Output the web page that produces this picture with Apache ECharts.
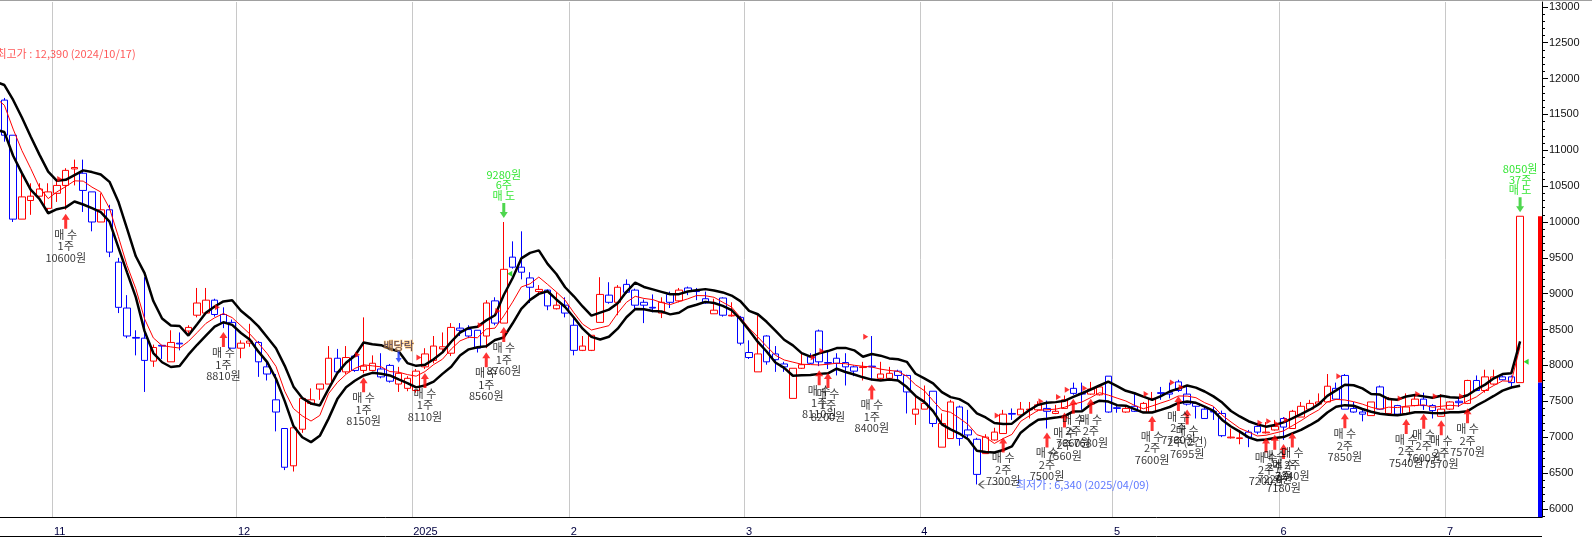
<!DOCTYPE html>
<html>
<head>
<meta charset="utf-8">
<script src="https://cdn.jsdelivr.net/npm/echarts@6/dist/echarts.min.js"></script>
<style>
  html, body { margin: 0; padding: 0; background: #fff; }
  #chart { width: 1592px; height: 537px; }
</style>
</head>
<body>
<div id="chart"></div>
<script>
// last days before the visible window, only used to seed the 5-day averages
var preDates = ['2024/10/18', '2024/10/21', '2024/10/22', '2024/10/23'];
var preOpens = [12150, 11700, 11850, 11600];
var preHighs = [12250, 11900, 11870, 11800];
var preLows = [11650, 11250, 11250, 11000];
var preCloses = [11700, 11850, 11600, 11780];

// trading days shown (Oct 24 2024 - Jul 11 2025)
var dates = [
  '2024/10/24', '2024/10/25', '2024/10/28', '2024/10/29', '2024/10/30', '2024/10/31',
  '2024/11/01', '2024/11/04', '2024/11/05', '2024/11/06', '2024/11/07', '2024/11/08', '2024/11/11',
  '2024/11/12', '2024/11/13', '2024/11/14', '2024/11/15', '2024/11/18', '2024/11/19', '2024/11/20',
  '2024/11/21', '2024/11/22', '2024/11/25', '2024/11/26', '2024/11/27', '2024/11/28', '2024/11/29',
  '2024/12/02', '2024/12/03', '2024/12/04', '2024/12/05', '2024/12/06', '2024/12/09', '2024/12/10',
  '2024/12/11', '2024/12/12', '2024/12/13', '2024/12/16', '2024/12/17', '2024/12/18', '2024/12/19',
  '2024/12/20', '2024/12/23', '2024/12/24', '2024/12/26', '2024/12/27', '2024/12/30',
  '2025/01/02', '2025/01/03', '2025/01/06', '2025/01/07', '2025/01/08', '2025/01/09', '2025/01/10',
  '2025/01/13', '2025/01/14', '2025/01/15', '2025/01/16', '2025/01/17', '2025/01/20', '2025/01/21',
  '2025/01/22', '2025/01/23', '2025/01/24', '2025/01/31',
  '2025/02/03', '2025/02/04', '2025/02/05', '2025/02/06', '2025/02/07', '2025/02/10', '2025/02/11',
  '2025/02/12', '2025/02/13', '2025/02/14', '2025/02/17', '2025/02/18', '2025/02/19', '2025/02/20',
  '2025/02/21', '2025/02/24', '2025/02/25', '2025/02/26', '2025/02/27', '2025/02/28',
  '2025/03/04', '2025/03/05', '2025/03/06', '2025/03/07', '2025/03/10', '2025/03/11', '2025/03/12',
  '2025/03/13', '2025/03/14', '2025/03/17', '2025/03/18', '2025/03/19', '2025/03/20', '2025/03/21',
  '2025/03/24', '2025/03/25', '2025/03/26', '2025/03/27', '2025/03/28', '2025/03/31',
  '2025/04/01', '2025/04/02', '2025/04/03', '2025/04/04', '2025/04/07', '2025/04/08', '2025/04/09',
  '2025/04/10', '2025/04/11', '2025/04/14', '2025/04/15', '2025/04/16', '2025/04/17', '2025/04/18',
  '2025/04/21', '2025/04/22', '2025/04/23', '2025/04/24', '2025/04/25', '2025/04/28', '2025/04/29',
  '2025/04/30',
  '2025/05/02', '2025/05/07', '2025/05/08', '2025/05/09', '2025/05/12', '2025/05/13', '2025/05/14',
  '2025/05/15', '2025/05/16', '2025/05/19', '2025/05/20', '2025/05/21', '2025/05/22', '2025/05/23',
  '2025/05/26', '2025/05/27', '2025/05/28', '2025/05/29', '2025/05/30',
  '2025/06/02', '2025/06/04', '2025/06/05', '2025/06/09', '2025/06/10', '2025/06/11', '2025/06/12',
  '2025/06/13', '2025/06/16', '2025/06/17', '2025/06/18', '2025/06/19', '2025/06/20', '2025/06/23',
  '2025/06/24', '2025/06/25', '2025/06/26', '2025/06/27', '2025/06/30',
  '2025/07/01', '2025/07/02', '2025/07/03', '2025/07/04', '2025/07/07', '2025/07/08', '2025/07/09',
  '2025/07/10', '2025/07/11'
];

var opens = [
  11700, 11210, 10040, 10300, 10360, 10190, 10400, 10510, 10740, 10680,
  10420, 10000, 10170, 9440, 8800, 8390, 8380, 8060, 8280, 8050,
  8310, 8480, 8700, 8730, 8910, 8710, 8600, 8240, 8310, 8320,
  7980, 7520, 7120, 6600, 7110, 7470, 7670, 7740, 8100, 7910,
  8130, 7930, 7930, 7950, 8000, 7740, 7680, 7650, 7980, 8070,
  8230, 8170, 8520, 8500, 8490, 8410, 8900, 8590, 9510, 9370,
  9220, 9030, 9050, 8790, 8840, 8560, 8210, 8210, 8600, 8980,
  8880, 9130, 9050, 8880, 8810, 8730, 8990, 8900, 9080, 9040,
  8930, 8720, 8940, 8690, 8670, 8180, 7910, 8410, 8160, 8020,
  7540, 7960, 8120, 8480, 8040, 8100, 8040, 7980, 7970, 7990,
  7820, 7820, 7920, 7860, 7320, 7390, 7640, 6860, 6980, 7420,
  7100, 6970, 6770, 6960, 7050, 7330, 7310, 7380, 7380, 7400,
  7330, 7400, 7680, 7610, 7600, 7590, 7850, 7410, 7350, 7430,
  7350, 7350, 7620, 7620, 7770, 7600, 7470, 7390, 7360, 7330,
  6990, 6980, 7070, 7150, 7060, 7100, 7260, 7120, 7280, 7390,
  7460, 7490, 7680, 7860, 7400, 7350, 7300, 7700, 7330, 7440,
  7330, 7440, 7530, 7440, 7290, 7390, 7500, 7470, 7790, 7650,
  7740, 7840, 7840, 7760
];
var highs = [
  11730, 11210, 10680, 10540, 10540, 10540, 10570, 10750, 10870, 10870,
  10420, 10400, 10240, 9500, 8980, 8490, 9230, 8290, 8280, 8490,
  8460, 8560, 9080, 9080, 8930, 8810, 8640, 8350, 8580, 8340,
  8050, 7880, 7120, 7130, 7540, 7680, 7740, 8270, 8230, 8270,
  8160, 8670, 8140, 8170, 8020, 7980, 7850, 7950, 8240, 8410,
  8460, 8590, 8590, 8560, 8490, 8910, 8950, 10000, 9730, 9870,
  9300, 9120, 9060, 9020, 8950, 8670, 8410, 8420, 9230, 9160,
  9120, 9200, 9070, 8920, 8990, 8950, 9030, 9080, 9100, 9080,
  9030, 8930, 8950, 8880, 8690, 8350, 8700, 8420, 8270, 8050,
  7960, 8160, 8170, 8500, 8210, 8170, 8170, 8000, 8050, 8410,
  8050, 7980, 7940, 7870, 7580, 7720, 7640, 7330, 7520, 7440,
  7380, 6990, 7040, 7130, 7380, 7400, 7490, 7490, 7500, 7510,
  7450, 7580, 7760, 7760, 7770, 7730, 7850, 7440, 7440, 7600,
  7490, 7630, 7700, 7760, 7800, 7710, 7480, 7430, 7420, 7370,
  7120, 7100, 7100, 7200, 7210, 7240, 7280, 7380, 7490, 7520,
  7610, 7880, 7760, 7880, 7490, 7390, 7490, 7720, 7560, 7450,
  7610, 7600, 7620, 7460, 7600, 7500, 7560, 7800, 7860, 7940,
  7940, 7860, 7860, 10080
];
var lows = [
  11120, 10000, 10040, 10100, 10350, 10120, 10280, 10170, 10510, 10140,
  9870, 10000, 9510, 8730, 8380, 8140, 7630, 7980, 8090, 8050,
  8210, 8420, 8670, 8720, 8680, 8520, 8240, 8100, 8260, 7840,
  7790, 7080, 6540, 6520, 7060, 7450, 7520, 7740, 7880, 7880,
  7910, 7890, 7920, 7820, 7760, 7630, 7640, 7620, 7950, 8030,
  8170, 8130, 8410, 8380, 8180, 8240, 8560, 8590, 9350, 9200,
  8870, 8980, 8770, 8780, 8670, 8140, 8200, 8200, 8600, 8860,
  8700, 9000, 8770, 8590, 8740, 8660, 8800, 8880, 8980, 8910,
  8860, 8720, 8680, 8680, 8280, 8090, 7910, 8010, 7910, 7910,
  7540, 7950, 8020, 7990, 7950, 7860, 7720, 7850, 7790, 7790,
  7800, 7790, 7780, 7330, 7170, 7390, 7140, 6860, 6980, 6880,
  6990, 6340, 6770, 6950, 7050, 7240, 7300, 7260, 7360, 7120,
  7320, 7400, 7590, 7380, 7590, 7580, 7340, 7340, 7340, 7350,
  7340, 7350, 7520, 7540, 7630, 7440, 7260, 7260, 7240, 7000,
  6980, 6900, 6860, 7040, 7050, 7090, 6960, 7120, 7280, 7380,
  7450, 7490, 7520, 7390, 7340, 7220, 7300, 7380, 7320, 7300,
  7310, 7430, 7380, 7260, 7290, 7380, 7420, 7460, 7640, 7620,
  7730, 7790, 7680, 7760
];
var closes = [
  11210, 10040, 10350, 10360, 10460, 10420, 10510, 10720, 10760, 10440,
  10000, 10170, 9580, 8810, 8410, 8380, 8070, 8250, 8270, 8320,
  8300, 8530, 8870, 8910, 8710, 8600, 8240, 8310, 8340, 8050,
  7880, 7350, 6580, 7130, 7540, 7520, 7740, 8100, 7910, 8110,
  7930, 7990, 8030, 7840, 7780, 7890, 7820, 7920, 8160, 8270,
  8260, 8530, 8490, 8410, 8240, 8870, 8590, 9340, 9370, 9300,
  9090, 9060, 8830, 8840, 8730, 8210, 8270, 8420, 8990, 8880,
  9090, 9020, 8840, 8840, 8800, 8880, 8880, 9050, 9030, 9030,
  8870, 8770, 8700, 8700, 8310, 8110, 8160, 8050, 8080, 7980,
  7960, 8010, 8030, 8050, 8030, 8030, 7980, 7920, 7980, 7980,
  7880, 7890, 7860, 7630, 7390, 7470, 7190, 7190, 7490, 6980,
  7030, 6480, 7000, 7070, 7320, 7320, 7390, 7390, 7450, 7360,
  7360, 7520, 7610, 7600, 7670, 7700, 7350, 7400, 7400, 7360,
  7470, 7540, 7610, 7600, 7650, 7460, 7430, 7260, 7350, 7020,
  7000, 6990, 7000, 7070, 7070, 7150, 7140, 7360, 7430, 7470,
  7490, 7710, 7530, 7390, 7350, 7320, 7490, 7390, 7540, 7320,
  7420, 7530, 7440, 7370, 7390, 7490, 7480, 7790, 7650, 7840,
  7840, 7800, 7760, 10080
];

var yLabels = [6000, 6500, 7000, 7500, 8000, 8500, 9000, 9500, 10000, 10500, 11000, 11500, 12000, 12500, 13000];

// trade signals (indices into dates)
var buyIdx = [7, 25, 41, 48, 55, 57, 93, 94, 99, 114, 119, 121, 122, 124, 131, 134, 135, 144, 145, 146, 147, 153, 160, 162, 164, 167];
var buyQty = ['1주', '1주', '1주', '1주', '1주', '1주', '1주', '1주', '1주', '2주', '2주', '2주', '2주', '2주', '2주', '2주', '2주(2건)', '2주', '2주', '2주', '2주', '2주', '2주', '2주', '2주', '2주'];
var buyPrice = [10600, 8810, 8150, 8110, 8560, 8760, 8110, 8200, 8400, 7300, 7500, 7560, 7660, 7680, 7600, 7760, 7695, 7200, 7220, 7180, 7240, 7850, 7540, 7600, 7570, 7570];
var sellIdx = [57, 173];
var sellQty = ['6주', '37주'];
var sellPrice = [9280, 8050];
var exDivIdx = 45;

var periodHigh = 12390;
var periodHighDate = '2024/10/17';

function comma(n) {
  return String(n).replace(/\B(?=(\d{3})+(?!\d))/g, ',');
}

function movingAvg(values, n) {
  return values.map(function (v, i) {
    var win = values.slice(Math.max(0, i - n + 1), i + 1);
    var sum = win.reduce(function (s, x) { return s + x; }, 0);
    return Math.round(sum / win.length);
  });
}

var off = preDates.length;
var allDates = preDates.concat(dates, ['', '']);
var allOpens = preOpens.concat(opens);
var allHighs = preHighs.concat(highs);
var allLows = preLows.concat(lows);
var allCloses = preCloses.concat(closes);

function isMonthStart(i) {
  if (i <= off || !allDates[i]) return false;
  return allDates[i].slice(0, 7) !== allDates[i - 1].slice(0, 7);
}

// small ticks every 100 between the labelled prices
var yMinorTicks = [];
for (var t = yLabels[0] - 100; t <= yLabels[yLabels.length - 1]; t += 100) {
  yMinorTicks.push(t);
}

var n = closes.length;
var lastClose = closes[n - 1];
var prevClose = closes[n - 2];
var changePct = ((lastClose - prevClose) / prevClose * 100).toFixed(2) + '%';
var lowIdx = lows.indexOf(Math.min.apply(null, lows));

var candleData = allOpens.map(function (o, i) {
  return [o, allCloses[i], allLows[i], allHighs[i]];
});

var KFONT = '"Noto Sans CJK KR", sans-serif';
var NFONT = '"Liberation Sans", Arial, sans-serif';

var upArrow = 'path://M4,0 L8,6 L5.5,6 L5.5,15 L2.5,15 L2.5,6 L0,6 Z';
var downArrow = 'path://M2.5,0 L5.5,0 L5.5,9 L8,9 L4,15 L0,9 L2.5,9 Z';

var chart = echarts.init(document.getElementById('chart'));

var option = {
  animation: false,
  backgroundColor: '#fff',
  grid: { left: 0, right: 50, top: 2, bottom: 20, containLabel: false, outerBoundsMode: 'none' },
  xAxis: {
    type: 'category',
    data: allDates,
    min: off,
    boundaryGap: true,
    axisLine: { lineStyle: { color: '#000', width: 1 } },
    axisTick: {
      interval: function (i) { return isMonthStart(i); },
      length: 5,
      lineStyle: { color: '#000' }
    },
    splitLine: {
      show: true,
      interval: function (i) { return isMonthStart(i); },
      lineStyle: { color: '#c8c8c8', width: 1 }
    },
    axisLabel: {
      interval: function (i) { return isMonthStart(i); },
      formatter: function (value) {
        var p = value.split('/');
        return p[1] === '01' ? p[0] : String(+p[1]);
      },
      align: 'left',
      padding: [0, 0, 0, -3],
      margin: 9,
      color: '#000040',
      fontSize: 11,
      fontFamily: NFONT
    }
  },
  yAxis: [
    {
      type: 'value',
      position: 'right',
      min: 5886,
      max: 13068,
      axisLine: { show: true, lineStyle: { color: '#000', width: 1 } },
      axisTick: { show: true, customValues: yLabels, length: 6, lineStyle: { color: '#000' } },
      splitLine: { show: false },
      axisLabel: {
        customValues: yLabels,
        formatter: function (v) { return String(v); },
        margin: 7,
        color: '#111',
        fontSize: 11,
        fontFamily: NFONT
      }
    },
    {
      type: 'value',
      position: 'right',
      min: 5886,
      max: 13068,
      axisLine: { show: false },
      axisTick: { show: true, customValues: yMinorTicks, length: 3, lineStyle: { color: '#000' } },
      axisLabel: { show: false },
      splitLine: { show: false }
    }
  ],
  series: [
    {
      name: 'price',
      type: 'candlestick',
      data: candleData,
      barWidth: 7,
      z: 2,
      itemStyle: {
        color: '#fff',
        color0: '#fff',
        borderColor: '#ff0000',
        borderColor0: '#0000ff',
        borderWidth: 1
      },
      markLine: {
        silent: true,
        symbol: 'none',
        lineStyle: { opacity: 0 },
        data: [{ yAxis: lastClose }],
        label: {
          position: 'end',
          distance: 0,
          padding: [13, 0, 0, 0],
          formatter: '{a|' + comma(lastClose) + '}\n{b|' + changePct + '}',
          rich: {
            a: {
              width: 46, align: 'right', color: '#fff', backgroundColor: '#ff0000',
              padding: [1, 4, 0, 0], fontSize: 11, lineHeight: 12, fontFamily: NFONT
            },
            b: {
              width: 50, align: 'right', color: '#ff2020', padding: [2, 2, 0, 0],
              fontSize: 11, lineHeight: 13, fontFamily: NFONT
            }
          }
        }
      }
    },
    {
      name: 'ma5',
      type: 'line',
      data: movingAvg(allCloses, 5),
      symbol: 'none',
      z: 3,
      lineStyle: { color: '#ff0000', width: 1 }
    },
    {
      name: 'upper',
      type: 'line',
      data: movingAvg(allHighs, 5),
      symbol: 'none',
      z: 3,
      lineStyle: { color: '#000', width: 2.5 }
    },
    {
      name: 'lower',
      type: 'line',
      data: movingAvg(allLows, 5),
      symbol: 'none',
      z: 3,
      lineStyle: { color: '#000', width: 2.5 }
    },
    {
      name: 'buyFlag',
      type: 'scatter',
      z: 4,
      data: buyIdx.map(function (d, i) { return [d + off, buyPrice[i]]; }),
      symbol: 'path://M0,0 L6,3 L0,6 Z',
      symbolSize: [5, 6],
      symbolOffset: [-6, 0],
      itemStyle: { color: '#ff0000' }
    },
    {
      name: 'sellFlag',
      type: 'scatter',
      z: 4,
      data: sellIdx.map(function (d, i) { return [d + off, sellPrice[i]]; }),
      symbol: 'path://M6,0 L0,3 L6,6 Z',
      symbolSize: [5, 6],
      symbolOffset: [6, 0],
      itemStyle: { color: '#00cc00' }
    },
    {
      name: 'buy',
      type: 'scatter',
      z: 5,
      data: buyIdx.map(function (d) { return [d + off, lows[d]]; }),
      symbol: upArrow,
      symbolSize: [8, 15],
      symbolOffset: [0, 11.5],
      itemStyle: { color: '#ff0000' },
      label: {
        show: true,
        position: 'bottom',
        distance: 0,
        color: '#000',
        fontSize: 11,
        lineHeight: 11.5,
        fontFamily: KFONT,
        formatter: function (p) {
          var i = p.dataIndex;
          return '매 수\n' + buyQty[i] + '\n' + buyPrice[i] + '원';
        }
      }
    },
    {
      name: 'sell',
      type: 'scatter',
      z: 5,
      data: sellIdx.map(function (d) { return [d + off, highs[d]]; }),
      symbol: downArrow,
      symbolSize: [8, 15],
      symbolOffset: [0, -11.5],
      itemStyle: { color: '#22cc22' },
      label: {
        show: true,
        position: 'top',
        distance: 2,
        color: '#00e000',
        fontSize: 11,
        lineHeight: 10.5,
        fontFamily: KFONT,
        formatter: function (p) {
          var i = p.dataIndex;
          return sellPrice[i] + '원\n' + sellQty[i] + '\n매 도';
        }
      }
    },
    {
      name: 'exDividend',
      type: 'scatter',
      z: 5,
      data: [[exDivIdx + off, highs[exDivIdx]]],
      symbol: downArrow,
      symbolSize: [6, 12],
      symbolOffset: [0, -10],
      itemStyle: { color: '#1030ff' },
      label: {
        show: true,
        position: 'top',
        distance: 0,
        formatter: '배당락',
        color: '#202060',
        textBorderColor: '#ffb040',
        textBorderWidth: 1,
        fontSize: 11,
        fontFamily: KFONT
      }
    },
    {
      name: 'lowMark',
      type: 'scatter',
      z: 5,
      data: [[lowIdx + off, lows[lowIdx]]],
      symbol: 'path://M0,4 L5,0 M0,4 L5,8 M0,4 L34,4',
      symbolSize: [34, 8],
      symbolOffset: [19, 0],
      itemStyle: { color: 'transparent', borderColor: '#333', borderWidth: 1 },
      label: {
        show: true,
        position: 'right',
        distance: 2,
        formatter: '최저가 : ' + comma(lows[lowIdx]) + ' (' + dates[lowIdx] + ')',
        color: '#3355ff',
        fontSize: 11,
        fontFamily: KFONT
      }
    },
    {
      name: 'highMark',
      type: 'scatter',
      z: 5,
      clip: false,
      data: [[off, periodHigh]],
      symbolSize: 0,
      label: {
        show: true,
        position: 'right',
        distance: 0,
        offset: [-8, 3],
        formatter: '최고가 : ' + comma(periodHigh) + ' (' + periodHighDate + ')',
        color: '#ff3030',
        fontSize: 11,
        fontFamily: KFONT
      }
    },
    {
      name: 'dayBar',
      type: 'custom',
      z: 6,
      clip: false,
      data: [[n - 1 + off, prevClose, lastClose]],
      encode: { x: 0, y: [1, 2] },
      renderItem: function (params, api) {
        var cs = params.coordSys;
        var yPrev = api.coord([api.value(0), api.value(1)])[1];
        var yLast = api.coord([api.value(0), api.value(2)])[1];
        var x = cs.x + cs.width - 4;
        var bottom = cs.y + cs.height;
        return {
          type: 'group',
          children: [
            { type: 'rect', shape: { x: x, y: yLast, width: 4, height: yPrev - yLast }, style: { fill: '#ff0000' } },
            { type: 'rect', shape: { x: x, y: yPrev, width: 4, height: bottom - yPrev }, style: { fill: '#0000ff' } }
          ]
        };
      }
    }
  ],
  graphic: [
    { type: 'line', shape: { x1: 0, y1: 0.5, x2: 1592, y2: 0.5 }, style: { stroke: '#a0a0a0', lineWidth: 1 } },
    { type: 'line', shape: { x1: 0, y1: 536.5, x2: 1542, y2: 536.5 }, style: { stroke: '#000', lineWidth: 1 } }
  ]
};

chart.setOption(option);
</script>
</body>
</html>
